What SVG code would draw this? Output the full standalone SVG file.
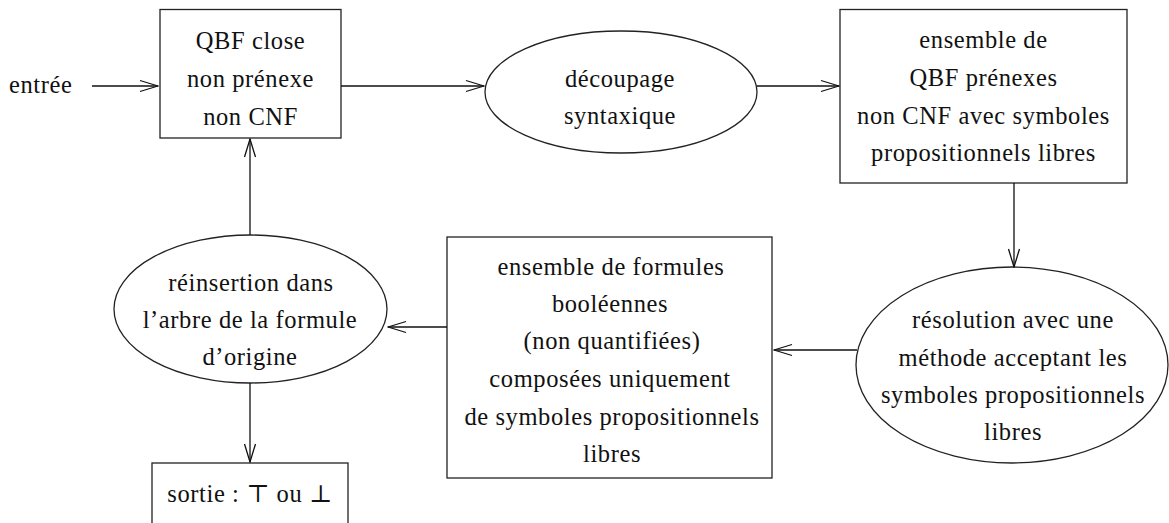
<svg xmlns="http://www.w3.org/2000/svg" width="1169" height="523" viewBox="0 0 1169 523">
  <style>
    .shape { fill: #fff; stroke: #222; stroke-width: 1.3; }
    .edge { fill: none; stroke: #111; stroke-width: 1.3; }
    text { font-family: "Liberation Serif", "DejaVu Serif", serif; font-size: 24.5px; letter-spacing: 0.6px; fill: #111; text-anchor: middle; }
    .left { text-anchor: start; }
  </style>
  <defs>
    <marker id="arr" viewBox="-20 -7 21 14" refX="0" refY="0" markerWidth="21" markerHeight="14" markerUnits="userSpaceOnUse" orient="auto">
      <path d="M-18,-5.5 L0,0 L-18,5.5" fill="none" stroke="#111" stroke-width="1.3"/>
    </marker>
  </defs>

  <!-- input label -->
  <g id="entree">
    <text class="left" x="9" y="93">entrée</text>
  </g>

  <g id="qbf-close">
    <rect class="shape" x="160" y="9.5" width="181" height="128.5"/>
    <text x="250.5" y="49">QBF close</text>
    <text x="250.5" y="87">non prénexe</text>
    <text x="250.5" y="125">non CNF</text>
  </g>

  <g id="decoupage">
    <ellipse class="shape" cx="621" cy="92" rx="136" ry="61"/>
    <text x="620" y="87">découpage</text>
    <text x="620" y="124">syntaxique</text>
  </g>

  <g id="ensemble-qbf">
    <rect class="shape" x="840" y="9.5" width="287" height="173.5"/>
    <text x="983.5" y="48">ensemble de</text>
    <text x="983.5" y="86">QBF prénexes</text>
    <text x="983.5" y="124">non CNF avec symboles</text>
    <text x="983.5" y="161">propositionnels libres</text>
  </g>

  <g id="resolution">
    <ellipse class="shape" cx="1012" cy="365" rx="156" ry="98"/>
    <text x="1013" y="328">résolution avec une</text>
    <text x="1013" y="366">méthode acceptant les</text>
    <text x="1013" y="403">symboles propositionnels</text>
    <text x="1013" y="440">libres</text>
  </g>

  <g id="ensemble-formules">
    <rect class="shape" x="447" y="237" width="325" height="241"/>
    <text x="611" y="275">ensemble de formules</text>
    <text x="610" y="312">booléennes</text>
    <text x="612" y="349">(non quantifiées)</text>
    <text x="610" y="387">composées uniquement</text>
    <text x="612" y="425">de symboles propositionnels</text>
    <text x="612" y="462">libres</text>
  </g>

  <g id="reinsertion">
    <ellipse class="shape" cx="250.5" cy="309" rx="136.5" ry="74"/>
    <text x="251" y="291">réinsertion dans</text>
    <text x="250" y="328">l’arbre de la formule</text>
    <text x="250" y="365">d’origine</text>
  </g>

  <g id="sortie">
    <rect class="shape" x="152" y="463" width="196" height="80"/>
    <text x="250" y="502">sortie : ⊤ ou ⊥</text>
  </g>

  <g id="connectors">
    <path class="edge" d="M92,86 H158" marker-end="url(#arr)"/>
    <path class="edge" d="M341,86 H484" marker-end="url(#arr)"/>
    <path class="edge" d="M757,86 H839" marker-end="url(#arr)"/>
    <path class="edge" d="M1014,183 V267" marker-end="url(#arr)"/>
    <path class="edge" d="M857,350 H774" marker-end="url(#arr)"/>
    <path class="edge" d="M447,327 H388" marker-end="url(#arr)"/>
    <path class="edge" d="M250,235 V139" marker-end="url(#arr)"/>
    <path class="edge" d="M250,383 V462" marker-end="url(#arr)"/>
  </g>
</svg>
